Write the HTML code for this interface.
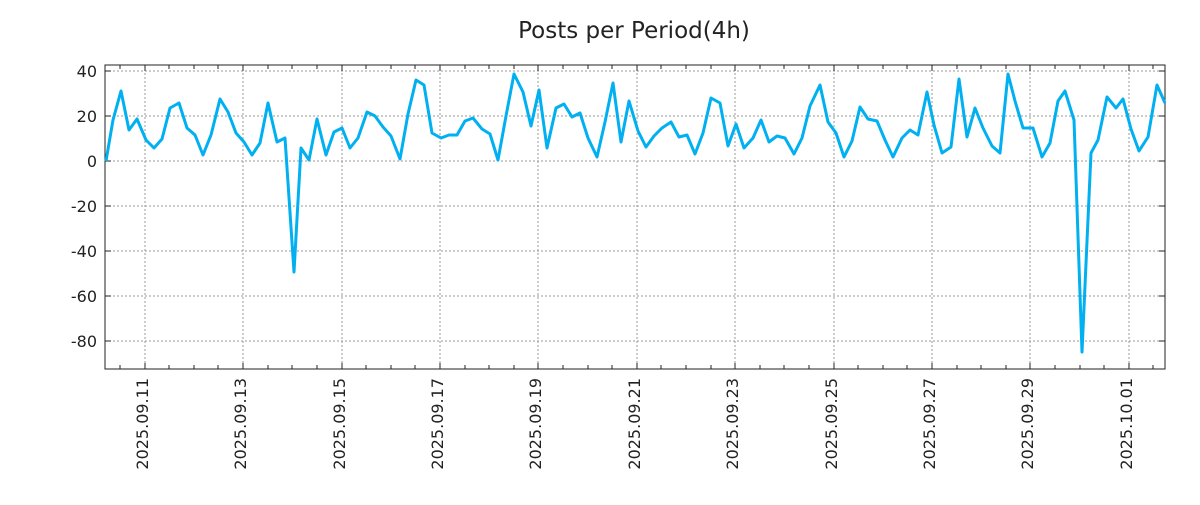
<!DOCTYPE html>
<html><head><meta charset="utf-8"><style>
body{margin:0;background:#fff;}
svg text{font-family:"DejaVu Sans","Liberation Sans",sans-serif;fill:#222;}
</style></head><body>
<svg width="1200" height="500" viewBox="0 0 1200 500" xmlns="http://www.w3.org/2000/svg">
<rect width="1200" height="500" fill="#fff"/>
<text x="634" y="38" font-size="23" text-anchor="middle">Posts per Period(4h)</text>
<g stroke="#999" stroke-width="1" stroke-dasharray="2,2">
<line x1="105" y1="71" x2="1165" y2="71"/><line x1="105" y1="116" x2="1165" y2="116"/><line x1="105" y1="161" x2="1165" y2="161"/><line x1="105" y1="206" x2="1165" y2="206"/><line x1="105" y1="251" x2="1165" y2="251"/><line x1="105" y1="296" x2="1165" y2="296"/><line x1="105" y1="341" x2="1165" y2="341"/>
<line x1="145" y1="65" x2="145" y2="369"/><line x1="243" y1="65" x2="243" y2="369"/><line x1="342" y1="65" x2="342" y2="369"/><line x1="440" y1="65" x2="440" y2="369"/><line x1="538" y1="65" x2="538" y2="369"/><line x1="637" y1="65" x2="637" y2="369"/><line x1="735" y1="65" x2="735" y2="369"/><line x1="834" y1="65" x2="834" y2="369"/><line x1="932" y1="65" x2="932" y2="369"/><line x1="1030" y1="65" x2="1030" y2="369"/><line x1="1129" y1="65" x2="1129" y2="369"/>
</g>
<g stroke="#222" stroke-width="1">
<line x1="105" y1="71" x2="111" y2="71"/><line x1="105" y1="116" x2="111" y2="116"/><line x1="105" y1="161" x2="111" y2="161"/><line x1="105" y1="206" x2="111" y2="206"/><line x1="105" y1="251" x2="111" y2="251"/><line x1="105" y1="296" x2="111" y2="296"/><line x1="105" y1="341" x2="111" y2="341"/>
<line x1="1159" y1="71" x2="1165" y2="71"/><line x1="1159" y1="116" x2="1165" y2="116"/><line x1="1159" y1="161" x2="1165" y2="161"/><line x1="1159" y1="206" x2="1165" y2="206"/><line x1="1159" y1="251" x2="1165" y2="251"/><line x1="1159" y1="296" x2="1165" y2="296"/><line x1="1159" y1="341" x2="1165" y2="341"/>
</g>
<g stroke="#222" stroke-width="1">
<path d="M120,65v4M145,65v6M169,65v4M194,65v4M218,65v4M243,65v6M268,65v4M292,65v4M317,65v4M342,65v6M366,65v4M391,65v4M415,65v4M440,65v6M465,65v4M489,65v4M514,65v4M538,65v6M563,65v4M588,65v4M612,65v4M637,65v6M661,65v4M686,65v4M711,65v4M735,65v6M760,65v4M784,65v4M809,65v4M834,65v6M858,65v4M883,65v4M907,65v4M932,65v6M957,65v4M981,65v4M1006,65v4M1030,65v6M1055,65v4M1080,65v4M1104,65v4M1129,65v6M1153,65v4"/>
<path d="M120,369v-4M145,369v-6M169,369v-4M194,369v-4M218,369v-4M243,369v-6M268,369v-4M292,369v-4M317,369v-4M342,369v-6M366,369v-4M391,369v-4M415,369v-4M440,369v-6M465,369v-4M489,369v-4M514,369v-4M538,369v-6M563,369v-4M588,369v-4M612,369v-4M637,369v-6M661,369v-4M686,369v-4M711,369v-4M735,369v-6M760,369v-4M784,369v-4M809,369v-4M834,369v-6M858,369v-4M883,369v-4M907,369v-4M932,369v-6M957,369v-4M981,369v-4M1006,369v-4M1030,369v-6M1055,369v-4M1080,369v-4M1104,369v-4M1129,369v-6M1153,369v-4"/>
</g>
<rect x="105" y="65" width="1060" height="304" fill="none" stroke="#222" stroke-width="1"/>
<g font-size="16" text-anchor="end">
<text x="97" y="77">40</text><text x="97" y="122">20</text><text x="97" y="167">0</text><text x="97" y="212">-20</text><text x="97" y="257">-40</text><text x="97" y="302">-60</text><text x="97" y="347">-80</text>
</g>
<g font-size="16" text-anchor="end">
<text transform="translate(148,378) rotate(-90)">2025.09.11</text>
<text transform="translate(246,378) rotate(-90)">2025.09.13</text>
<text transform="translate(345,378) rotate(-90)">2025.09.15</text>
<text transform="translate(443,378) rotate(-90)">2025.09.17</text>
<text transform="translate(541,378) rotate(-90)">2025.09.19</text>
<text transform="translate(640,378) rotate(-90)">2025.09.21</text>
<text transform="translate(738,378) rotate(-90)">2025.09.23</text>
<text transform="translate(837,378) rotate(-90)">2025.09.25</text>
<text transform="translate(935,378) rotate(-90)">2025.09.27</text>
<text transform="translate(1033,378) rotate(-90)">2025.09.29</text>
<text transform="translate(1132,378) rotate(-90)">2025.10.01</text>
</g>
<polyline fill="none" stroke="#00b0f0" stroke-width="3" stroke-linejoin="round" points="106,161 113,120 121,91 129,130 137,119 146,140 154,148 162,139 170,108 179,103 187,128 195,135 203,155 211,135 220,99 228,112 236,133 244,142 252,155 260,143 268,103 277,142 285,138 294,272 301,148 309,160 317,119 326,155 334,132 342,128 350,148 358,138 367,112 375,116 383,127 391,136 400,159 408,114 416,80 424,85 432,133 441,138 449,135 457,135 465,121 473,118 482,129 490,134 498,160 506,116 514,74 523,92 531,126 539,90 547,148 556,108 564,104 572,117 580,113 588,138 597,157 605,122 613,83 621,142 629,101 638,131 646,147 654,136 662,128 671,122 679,137 687,135 695,154 703,133 711,98 720,103 728,146 736,124 744,148 753,138 761,120 769,142 777,136 785,138 794,154 802,138 810,106 820,85 828,122 836,133 844,157 852,141 860,107 868,119 877,121 885,140 893,157 902,138 910,130 918,135 927,92 934,125 942,153 951,147 959,79 967,137 975,108 983,128 992,146 1000,153 1008,74 1015,101 1023,128 1033,128 1042,157 1050,143 1058,101 1065,91 1074,120 1082,352 1091,153 1098,140 1107,97 1116,108 1123,99 1131,129 1139,151 1148,137 1157,85 1165,103"/>
</svg>
</body></html>
